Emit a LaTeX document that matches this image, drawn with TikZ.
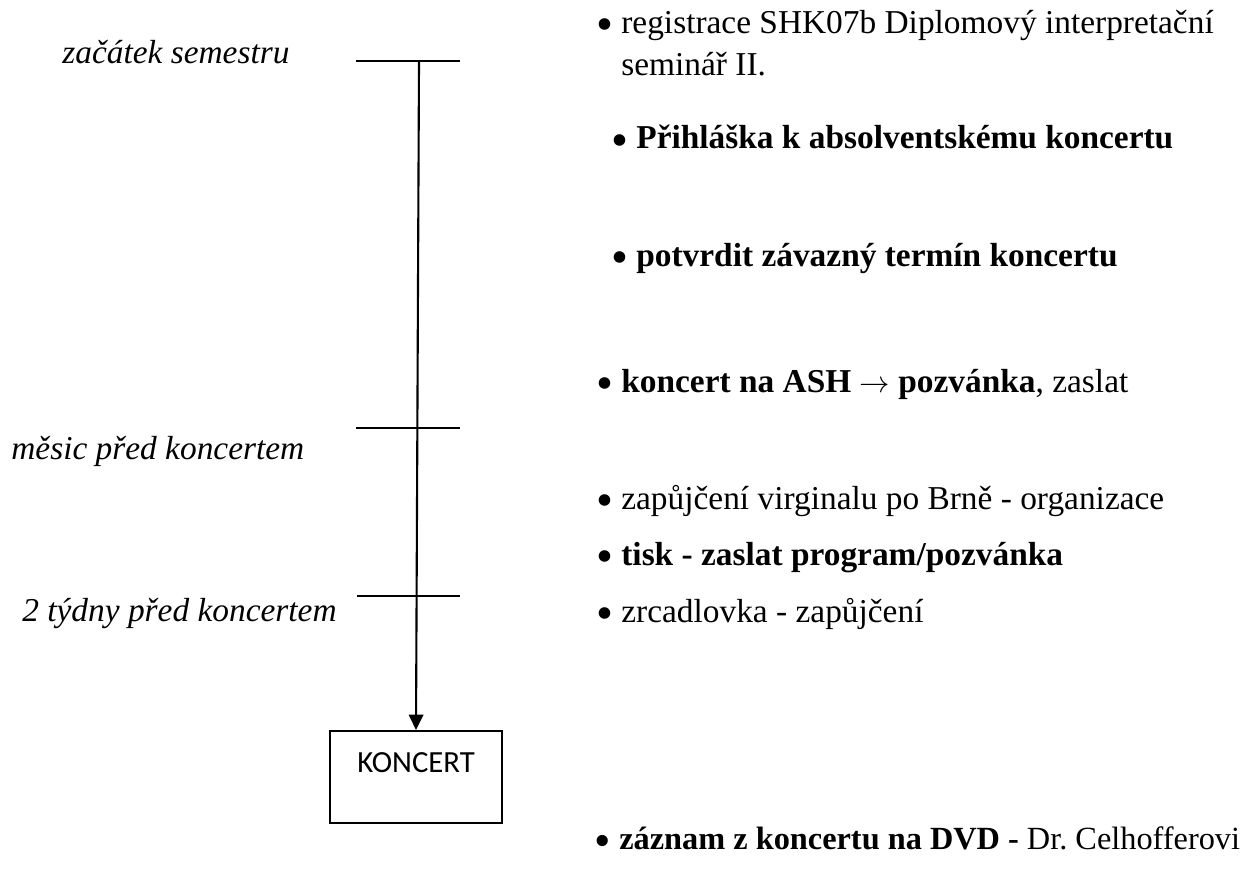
\documentclass[tikz,border=0pt]{standalone}
\usepackage{fontspec}
\usetikzlibrary{arrows.meta}
\setmainfont{Liberation Serif}
\newfontfamily\boxfont{Carlito}
\newcommand{\bul}{\makebox[0.5cm][l]{\raisebox{-0.22em}{\scalebox{1.45}{•}}}}
\frenchspacing
\begin{document}
\begin{tikzpicture}[x=0.02cm, y=-0.02cm,
            tick/.style = {line width=0.9pt},
            when/.style = {anchor=base west, inner sep=0, font=\fontsize{19}{24.4}\selectfont\itshape},
            item/.style = {anchor=base west, inner sep=0, align=left, font=\fontsize{19}{24.4}\selectfont},
            goal/.style = {draw, line width=1.1pt, inner sep=0, minimum width=3.44cm, text height=0.82cm, text depth=1.02cm, font=\boxfont\fontsize{17.5}{20}\selectfont}]

           \useasboundingbox (0,0) rectangle (1253,868);

           % casova osa
           \coordinate (t1l) at (356,61);  \coordinate (t1r) at (460,61);
           \coordinate (t2l) at (356,428); \coordinate (t2r) at (460,428);
           \coordinate (t3l) at (357,596); \coordinate (t3r) at (460,596);
           \coordinate (top) at (419,61);
           \draw[tick] (t1l) -- (t1r);
           \draw[tick] (t2l) -- (t2r);
           \draw[tick] (t3l) -- (t3r);

           \node[goal] (konc) at (416,777) {KONCERT};
           \draw[-{Triangle[width=0.29cm,length=0.31cm]}, line width=1.2pt] (top) -- (konc.north);

           % terminy
           \node[when] (zac) at (62,64) {začátek semestru};
           \node[when] (mes) at (11,459) {měsic před koncertem};
           \node[when] (tyd) at (22,621) {2 týdny před koncertem};

           % ukoly
           \node[item] (reg) at (596,76) {\bul registrace SHK07b Diplomový interpretační\\ \hspace*{0.5cm}seminář II.};
           \node[item] (pri) at (611,149) {\bul\textbf{Přihláška k absolventskému koncertu}};
           \node[item] (pot) at (611,266) {\bul\textbf{potvrdit závazný termín koncertu}};
           \node[item] (ash) at (596,392) {\bul\textbf{koncert na ASH $\rightarrow$ pozvánka}, zaslat};
           \node[item] (vir) at (596,509) {\bul zapůjčení virginalu po Brně - organizace};
           \node[item] (tis) at (596,565) {\bul\textbf{tisk - zaslat program/pozvánka}};
           \node[item] (zrc) at (596,622) {\bul zrcadlovka - zapůjčení};
           \node[item, font=\fontsize{18.4}{24.4}\selectfont] (dvd) at (594,849) {\bul\textbf{záznam z koncertu na DVD -} Dr. Celhofferovi};
        \end{tikzpicture}
\end{document}
